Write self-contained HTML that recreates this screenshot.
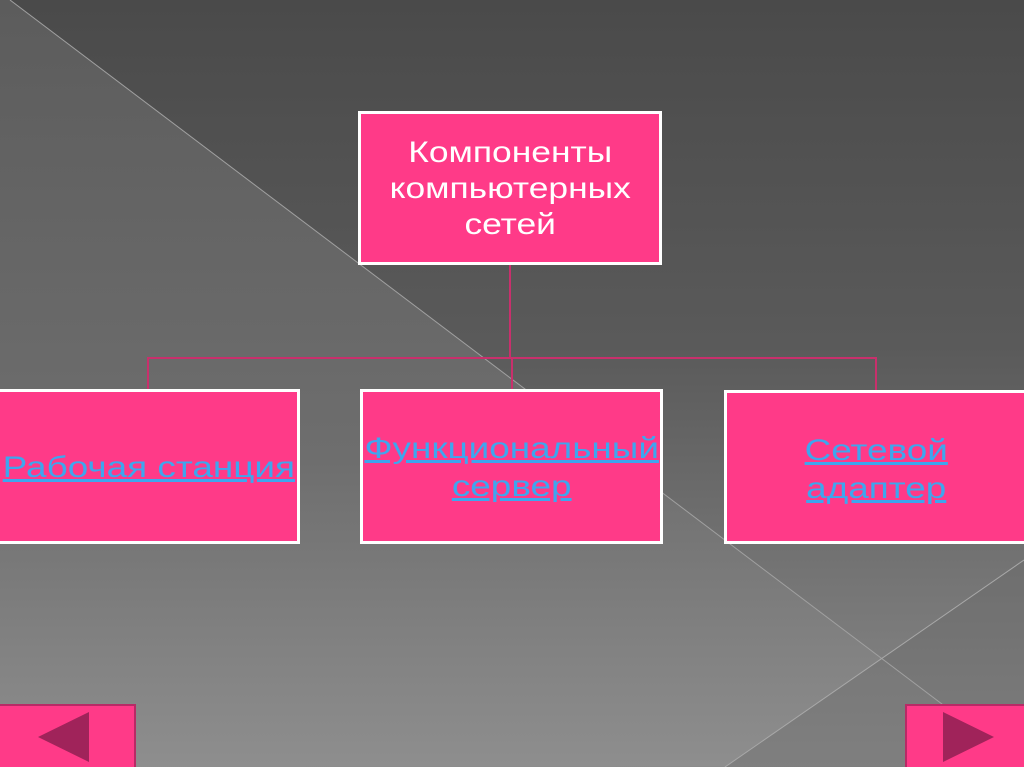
<!DOCTYPE html>
<html><head><meta charset="utf-8"><style>
html,body{margin:0;width:1024px;height:767px;overflow:hidden}
body{position:relative;font-family:"Liberation Sans","DejaVu Sans",sans-serif;background:linear-gradient(#4a4a4a,#5a5a5a 45%,#8a8a8a)}
.box{position:absolute;background:#ff3a88;border:3px solid #fff;box-sizing:border-box;text-align:center}
.t{display:inline-block;transform:scaleX(1.18);color:#fff;font-size:30px;line-height:36px}
.lk{display:inline-block;transform:scaleX(1.23);color:#3ea6ee;text-decoration:underline;font-size:30px;line-height:38px;white-space:nowrap}
.btn{position:absolute;background:#ff3a88;border:2px solid #b82a66;box-sizing:border-box;overflow:hidden}
</style></head><body>
<svg width="1024" height="767" style="position:absolute;left:0;top:0">
<defs><linearGradient id="g" x1="0" y1="0" x2="0" y2="1"><stop offset="0" stop-color="#5c5c5c"/><stop offset="0.6" stop-color="#6e6e6e"/><stop offset="1" stop-color="#8e8e8e"/></linearGradient></defs>
<polygon points="0,0 10,0 1024,766 0,767" fill="url(#g)"/>
<polygon points="1024,560 725,767 1024,767" fill="#6a6a6a" opacity="0.4"/>
<line x1="10" y1="0" x2="1024" y2="766" stroke="#a0a0a0" stroke-width="1"/>
<line x1="1024" y1="560" x2="725" y2="767" stroke="#a8a8a8" stroke-width="1"/>
<g stroke="#c8306c" stroke-width="2" fill="none">
<line x1="510" y1="264" x2="510" y2="358"/>
<polyline points="148,390 148,358 876,358 876,390"/>
<line x1="512" y1="358" x2="512" y2="390"/>
</g>
</svg>
<div class="box" style="left:358px;top:111px;width:304px;height:154px;padding-top:21px"><span class="t">Компоненты<br>компьютерных<br>сетей</span></div>
<div class="box" style="left:-3px;top:389px;width:303px;height:155px;padding-top:57px"><span class="lk">Рабочая станция</span></div>
<div class="box" style="left:360px;top:389px;width:303px;height:155px;padding-top:38px"><span class="lk">Функциональный<br>сервер</span></div>
<div class="box" style="left:724px;top:390px;width:304px;height:154px;padding-top:39px"><span class="lk">Сетевой<br>адаптер</span></div>
<div class="btn" style="left:-2px;top:704px;width:138px;height:66px"><svg width="138" height="66" style="position:absolute;left:-2px;top:-2px"><polygon points="40,33 91,8 91,58" fill="#a0235a"/></svg></div>
<div class="btn" style="left:905px;top:704px;width:122px;height:66px"><svg width="122" height="66" style="position:absolute;left:-2px;top:-2px"><polygon points="38,8 38,58 89,33" fill="#a0235a"/></svg></div>
</body></html>
